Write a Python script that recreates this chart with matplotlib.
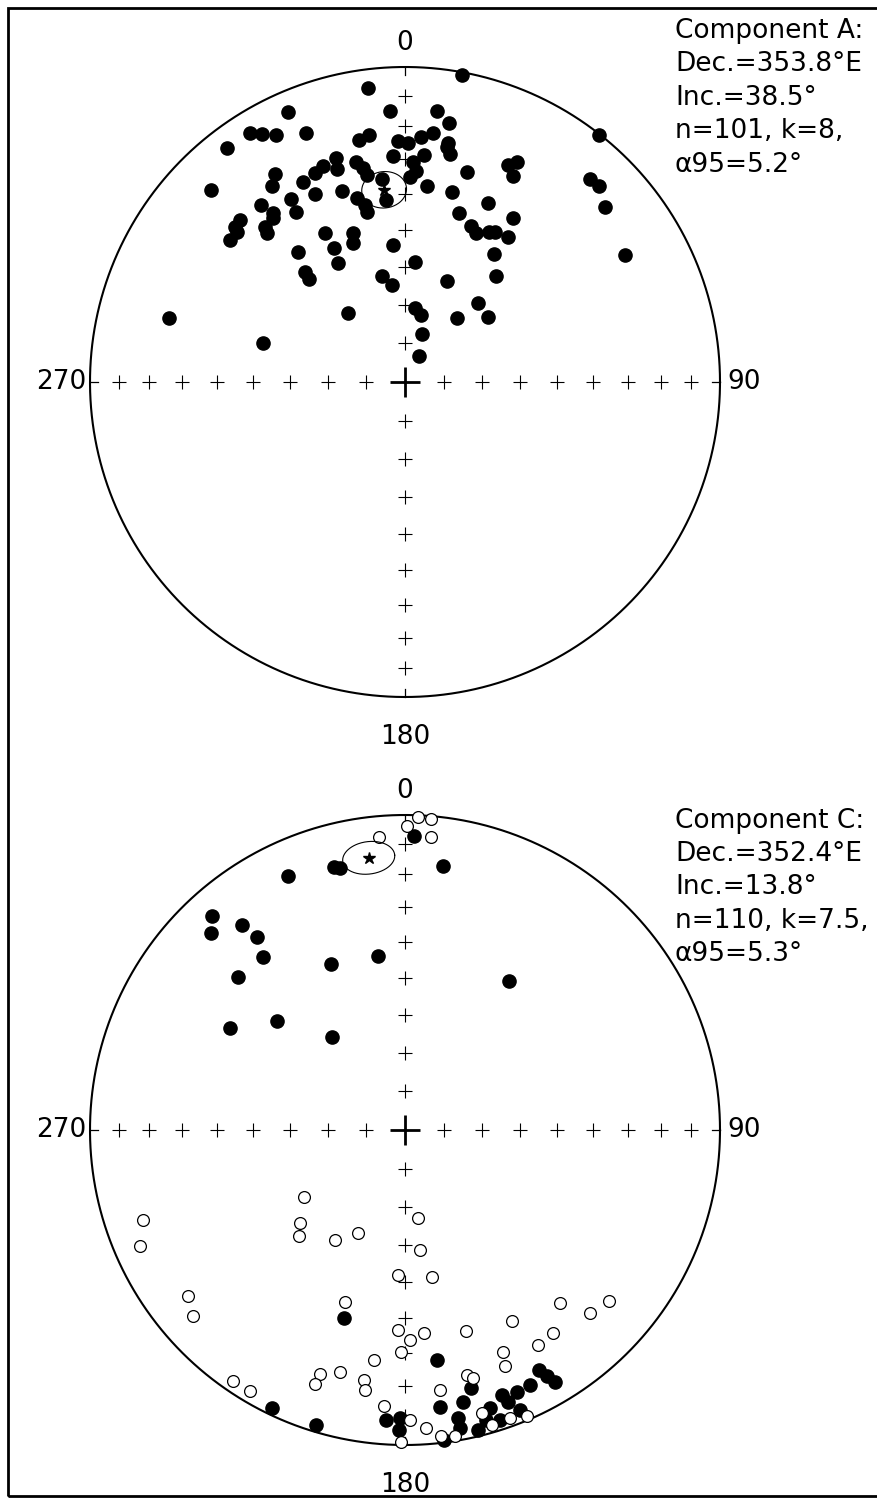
import numpy as np
import matplotlib.pyplot as plt
from matplotlib.patches import Rectangle

plt.rcParams['font.family'] = 'DejaVu Sans'

# Component A: site directions (all lower hemisphere)
A_DEC = [352.9, 336.6, 356.8, 328.1, 330.0, 332.5, 338.3, 322.7, 351.8, 349.3,
         358.4, 0.6, 356.9, 342.9, 339.3, 336.7, 342.3, 347.5, 349.0, 349.7,
         328.0, 325.8, 333.1, 314.7, 334.4, 341.7, 353.4, 354.0, 345.3, 347.3,
         347.5, 1.4, 320.8, 322.0, 328.0, 327.3, 314.5, 321.1, 312.4, 311.8,
         309.1, 317.9, 317.1, 331.8, 340.6, 332.1, 339.3, 354.9, 320.4, 330.5,
         317.8, 316.9, 347.6, 352.2, 320.4, 285.1, 285.2, 10.5, 6.7, 9.7,
         3.7, 6.5, 10.3, 10.1, 11.2, 4.8, 2.2, 3.0, 6.3, 16.5,
         13.8, 25.3, 26.9, 27.7, 38.1, 42.3, 44.7, 48.8, 24.9, 17.9,
         33.5, 22.9, 25.4, 29.4, 31.0, 35.4, 34.9, 40.7, 60.0, 4.8,
         22.7, 43.0, 51.7, 38.8, 7.7, 13.6, 19.2, 28.8]
A_INC = [6.7, 7.2, 14.8, 7.7, 9.9, 12.5, 15.9, 7.5, 21.9, 23.0,
         24.6, 25.0, 29.0, 26.6, 27.5, 28.6, 29.8, 29.1, 31.5, 33.6,
         23.1, 25.7, 29.5, 14.3, 34.2, 36.2, 35.4, 41.6, 39.3, 41.9,
         43.9, 35.3, 28.5, 32.5, 32.2, 36.0, 27.4, 33.7, 27.7, 29.2,
         29.3, 34.2, 35.7, 45.3, 48.6, 50.3, 51.1, 54.0, 45.6, 54.3,
         50.9, 53.2, 61.8, 64.6, 66.7, 23.5, 51.3, 1.0, 14.4, 17.7,
         23.0, 21.6, 24.0, 25.2, 27.1, 28.5, 30.7, 33.5, 37.4, 31.1,
         37.8, 24.7, 22.6, 27.0, 0.5, 14.0, 13.3, 16.9, 37.5, 43.1,
         37.7, 45.3, 46.4, 44.6, 43.8, 43.1, 49.1, 53.4, 20.5, 58.5,
         61.5, 62.1, 62.6, 68.6, 70.7, 72.3, 76.9, 82.4]
A_MEAN = (353.8, 38.5, 5.2)
A_LABEL = ["Component A:", "Dec.=353.8°E", "Inc.=38.5°", "n=101, k=8,", "\u03b195=5.2°"]

# Component C: positive = lower hemisphere (filled), negative = upper (open)
C_DEC = [318.0, 315.5, 321.4, 322.6, 320.5, 335.9, 351.3, 312.5, 310.3, 300.3,
         321.8, 34.9, 1.8, 8.2, 335.3, 344.9, 346.1,
         198.0, 172.1, 165.7, 156.9, 150.8, 149.2, 150.0, 205.6, 196.8, 183.7,
         181.0, 181.1, 172.8, 169.6, 169.5, 163.0, 161.9, 159.3, 166.3, 164.4,
         153.9, 159.9, 172.8, 157.7, 168.0,
         2.4, 4.8, 0.4, 5.1, 354.9,
         251.0, 246.4, 236.4, 228.5, 225.0, 204.5, 212.5, 171.6, 172.9, 182.8,
         169.6, 199.2, 232.6, 228.7, 138.1, 134.7, 130.0, 150.7, 143.9, 148.3,
         163.1, 174.7, 178.6, 182.0, 181.0, 187.7, 195.0, 199.2, 199.5, 189.3,
         188.7, 214.4, 210.7, 165.8, 164.7, 156.2, 157.0, 172.3, 184.4, 179.0,
         176.0, 173.3, 170.7, 180.7, 164.8, 163.6, 160.0, 156.9]
C_INC = [9.4, 13.3, 18.0, 23.8, 29.7, 41.8, 43.4, 28.8, 45.6, 35.9,
         59.2, 41.7, 7.3, 16.3, 12.1, 14.5, 15.3,
         37.3, 27.1, 16.5, 10.5, 13.7, 7.6, 10.7, 2.5, 2.5, 8.5,
         9.4, 5.4, 0.9, 7.7, 4.3, 8.5, 3.5, 8.5, 2.2, 4.9,
         10.7, 11.3, 12.3, 4.4, 12.6,
         -0.6, -1.0, -4.0, -7.3, -7.3,
         -13.0, -9.0, -58.4, -53.3, -50.6, -60.5, -55.9, -67.0, -58.4, -51.9,
         -50.7, -41.7, -14.3, -11.4, -27.1, -18.5, -16.5, -31.2, -21.4, -20.8,
         -33.7, -35.5, -33.7, -36.6, -30.2, -27.1, -21.5, -19.1, -15.6, -20.7,
         -17.5, -3.8, -4.1, -20.9, -19.5, -24.0, -19.7, -17.7, -13.0, -8.7,
         -5.8, -2.6, -1.6, -1.0, -7.6, -2.8, -3.1, -1.5]
C_MEAN = (352.4, 13.8, 5.3)
C_LABEL = ["Component C:", "Dec.=352.4°E", "Inc.=13.8°", "n=110, k=7.5,", "\u03b195=5.3°"]

NET_INC = [80, 70, 60, 50, 40, 30, 20, 10]
FS = 19


def eqarea(dec, inc):
    d = np.radians(np.asarray(dec, float))
    i = np.radians(np.abs(np.asarray(inc, float)))
    r = np.sqrt(2) * np.sin((np.pi / 2 - i) / 2)
    return r * np.sin(d), r * np.cos(d)


def cone(dec, inc, a95):
    # small circle of radius a95 around the mean direction
    d, i, a = np.radians([dec, inc, a95])
    t = np.linspace(0, 2 * np.pi, 200)
    m = np.array([np.cos(i) * np.cos(d), np.cos(i) * np.sin(d), np.sin(i)])
    u = np.array([-np.sin(d), np.cos(d), 0.0])
    w = np.cross(m, u)
    p = (np.cos(a) * m[:, None]
         + np.sin(a) * (np.cos(t) * u[:, None] + np.sin(t) * w[:, None]))
    dd = np.degrees(np.arctan2(p[1], p[0]))
    ii = np.degrees(np.arcsin(np.clip(p[2], -1, 1)))
    return eqarea(dd, ii)


def draw_net(ax):
    t = np.linspace(0, 2 * np.pi, 500)
    ax.plot(np.cos(t), np.sin(t), color='k', lw=1.5, zorder=1)
    for az in (0, 90, 180, 270):
        x, y = eqarea([az] * len(NET_INC), NET_INC)
        ax.plot(x, y, ls='none', marker='+', ms=10, mew=0.8, color='k', zorder=1)
        ex, ey = np.sin(np.radians(az)), np.cos(np.radians(az))
        ax.plot([ex, 0.975 * ex], [ey, 0.975 * ey], color='k', lw=0.9, zorder=1)
    ax.plot(0, 0, marker='+', ms=22, mew=2, color='k', zorder=1)
    ax.text(0, 1.054, "0", ha='center', va='baseline', fontsize=FS)
    ax.text(0, -1.085, "180", ha='center', va='top', fontsize=FS)
    ax.text(-1.013, 0, "270", ha='right', va='center', fontsize=FS)
    ax.text(1.022, 0, "90", ha='left', va='center', fontsize=FS)


def draw_panel(ax, dec, inc, mean, label, text_y):
    draw_net(ax)
    dec = np.asarray(dec)
    inc = np.asarray(inc)
    x, y = eqarea(dec[inc >= 0], inc[inc >= 0])
    ax.plot(x, y, ls='none', marker='o', ms=9.5, mfc='k', mec='k', zorder=3)
    x, y = eqarea(dec[inc < 0], inc[inc < 0])
    ax.plot(x, y, ls='none', marker='o', ms=8.5, mfc='white', mec='k', mew=0.9, zorder=3)
    cx, cy = cone(*mean)
    ax.plot(cx, cy, color='k', lw=0.8, zorder=4)
    mx, my = eqarea(mean[0], mean[1])
    ax.plot(mx, my, marker='*', ms=9, color='k', zorder=5)
    for k, line in enumerate(label):
        ax.text(0.857, text_y - k * 0.106, line, ha='left', va='baseline', fontsize=FS)


W, H = 877, 1502
R = 315.0
fig = plt.figure(figsize=(W / 100, H / 100), dpi=100)

ax1 = fig.add_axes([0, 0.5, 1, 0.5])
ax1.set_xlim(-405 / R, (W - 405) / R)
ax1.set_ylim(-(751 - 382) / R, 382 / R)
draw_panel(ax1, A_DEC, A_INC, A_MEAN, A_LABEL, 1.092)

ax2 = fig.add_axes([0, 0, 1, 0.5])
ax2.set_xlim(-405 / R, (W - 405) / R)
ax2.set_ylim(-(H - 1130) / R, (1130 - 751) / R)
draw_panel(ax2, C_DEC, C_INC, C_MEAN, C_LABEL, 0.96)

for ax in (ax1, ax2):
    ax.axis('off')

fig.patches.append(Rectangle((8 / W, 0.004), 1.2, 1 - 0.004 - 8 / H,
                             transform=fig.transFigure, fill=False,
                             lw=2, edgecolor='k'))

fig.savefig("out.png", dpi=100)
